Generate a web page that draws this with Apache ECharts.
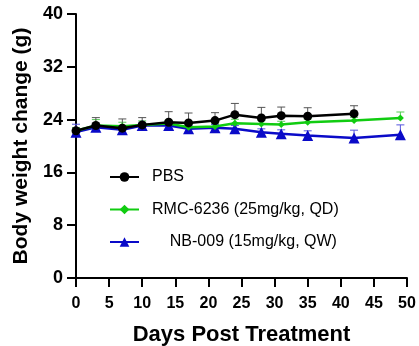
<!DOCTYPE html>
<html><head><meta charset="utf-8">
<script src="https://cdn.jsdelivr.net/npm/echarts@6/dist/echarts.min.js"></script>
<style>html,body{margin:0;padding:0;background:#fff}#c{width:419px;height:346px}</style>
</head><body><div id="c"></div>
<script>
var seriesNames = ['PBS', 'RMC-6236 (25mg/kg, QD)', 'NB-009 (15mg/kg, QW)'];
var pbsDays = [0, 3, 7, 10, 14, 17, 21, 24, 28, 31, 35, 42];
var pbsMean = [22.3, 23.1, 22.7, 23.2, 23.6, 23.5, 23.85, 24.75, 24.25, 24.6, 24.5, 24.9];
var pbsErr  = [0.4, 1.2, 1.4, 1.1, 1.6, 1.5, 1.2, 1.7, 1.6, 1.3, 1.3, 1.2];
var rmcDays = [0, 3, 7, 10, 14, 17, 21, 24, 28, 31, 35, 42, 49];
var rmcMean = [22.3, 23.1, 23.0, 23.2, 23.4, 22.85, 22.95, 23.45, 23.35, 23.25, 23.6, 23.85, 24.25];
var rmcErr  = [0.5, 0.9, 0.6, 0.6, 0.5, 0.5, 0.5, 0.6, 0.5, 0.5, 0.5, 0.5, 0.9];
var nbDays  = [0, 3, 7, 10, 14, 17, 21, 24, 28, 31, 35, 42, 49];
var nbMean  = [22.1, 22.85, 22.45, 23.1, 23.1, 22.6, 22.75, 22.6, 22.1, 21.85, 21.6, 21.2, 21.7];
var nbErr   = [1.2, 0.5, 0.5, 0.4, 0.5, 0.5, 0.5, 0.5, 0.5, 0.6, 0.7, 1.2, 1.5];
var yTicks = [0, 8, 16, 24, 32, 40];
var xTicks = [0, 5, 10, 15, 20, 25, 30, 35, 40, 45, 50];

var FONT = '"Liberation Sans", Arial, sans-serif';
function pairs(d, v) { return d.map(function (x, i) { return [x, v[i]]; }); }
function errData(d, v, e) { return d.map(function (x, i) { return [x, v[i], v[i] + e[i]]; }); }
function errSeries(d, v, e, color) {
  return {
    type: 'custom', silent: true, z: 1,
    data: errData(d, v, e),
    renderItem: function (params, api) {
      var p0 = api.coord([api.value(0), api.value(1)]);
      var p1 = api.coord([api.value(0), api.value(2)]);
      return { type: 'group', children: [
        { type: 'line', shape: { x1: p0[0], y1: p0[1], x2: p1[0], y2: p1[1] }, style: { stroke: color, lineWidth: 1 } },
        { type: 'line', shape: { x1: p1[0] - 4, y1: p1[1], x2: p1[0] + 4, y2: p1[1] }, style: { stroke: color, lineWidth: 1 } }
      ] };
    }
  };
}
var chart = echarts.init(document.getElementById('c'), null, { renderer: 'canvas' });
chart.setOption({
  animation: false,
  backgroundColor: '#fff',
  grid: { left: 76, right: 12, top: 14, bottom: 68, containLabel: false, outerBoundsMode: 'none' },
  legend: {
    orient: 'vertical', left: 104, top: 163, itemGap: 14.5, itemWidth: 29, itemHeight: 12,
    data: seriesNames,
    textStyle: { fontFamily: FONT, fontSize: 16, lineHeight: 18, color: '#000', padding: [0, 0, 0, 8] },
    formatter: function (n) { return n === seriesNames[2] ? '    ' + n : n; }
  },
  xAxis: {
    type: 'value', min: 0, max: 50, interval: 5,
    name: 'Days Post Treatment', nameLocation: 'middle', nameGap: 46,
    nameTextStyle: { fontFamily: FONT, fontSize: 22, fontWeight: 'bold', color: '#000' },
    axisLine: { show: true, lineStyle: { color: '#000', width: 2 } },
    axisTick: { show: true, length: 9, lineStyle: { color: '#000', width: 2 } },
    axisLabel: { fontFamily: FONT, fontSize: 16, fontWeight: 'bold', color: '#000', margin: 18,
      formatter: function (v) { return xTicks.indexOf(v) >= 0 ? String(v) : ''; } },
    splitLine: { show: false }
  },
  yAxis: {
    type: 'value', min: 0, max: 40, interval: 8,
    name: 'Body weight change (g)', nameLocation: 'middle', nameGap: 43, nameRotate: 90,
    nameTextStyle: { fontFamily: FONT, fontSize: 21, fontWeight: 'bold', color: '#000' },
    axisLine: { show: true, lineStyle: { color: '#000', width: 2 } },
    axisTick: { show: true, length: 9, lineStyle: { color: '#000', width: 2 } },
    axisLabel: { fontFamily: FONT, fontSize: 18, fontWeight: 'bold', color: '#000', margin: 13,
      formatter: function (v) { return yTicks.indexOf(v) >= 0 ? String(v) : ''; } },
    splitLine: { show: false }
  },
  series: [
    errSeries(nbDays, nbMean, nbErr, '#5555dd'),
    errSeries(rmcDays, rmcMean, rmcErr, '#55cc55'),
    errSeries(pbsDays, pbsMean, pbsErr, '#555555'),
    { name: seriesNames[2], type: 'line', z: 3, data: pairs(nbDays, nbMean), color: '#0a0ac8',
      symbol: 'triangle', symbolSize: 11, lineStyle: { width: 2.5, color: '#0a0ac8' }, itemStyle: { color: '#0a0ac8' } },
    { name: seriesNames[1], type: 'line', z: 4, data: pairs(rmcDays, rmcMean), color: '#11cc11',
      symbol: 'diamond', symbolSize: 7, lineStyle: { width: 2.5, color: '#11cc11' }, itemStyle: { color: '#11cc11' } },
    { name: seriesNames[0], type: 'line', z: 5, data: pairs(pbsDays, pbsMean), color: '#000',
      symbol: 'circle', symbolSize: 9, lineStyle: { width: 2.5, color: '#000' }, itemStyle: { color: '#000' } }
  ]
});
</script></body></html>
